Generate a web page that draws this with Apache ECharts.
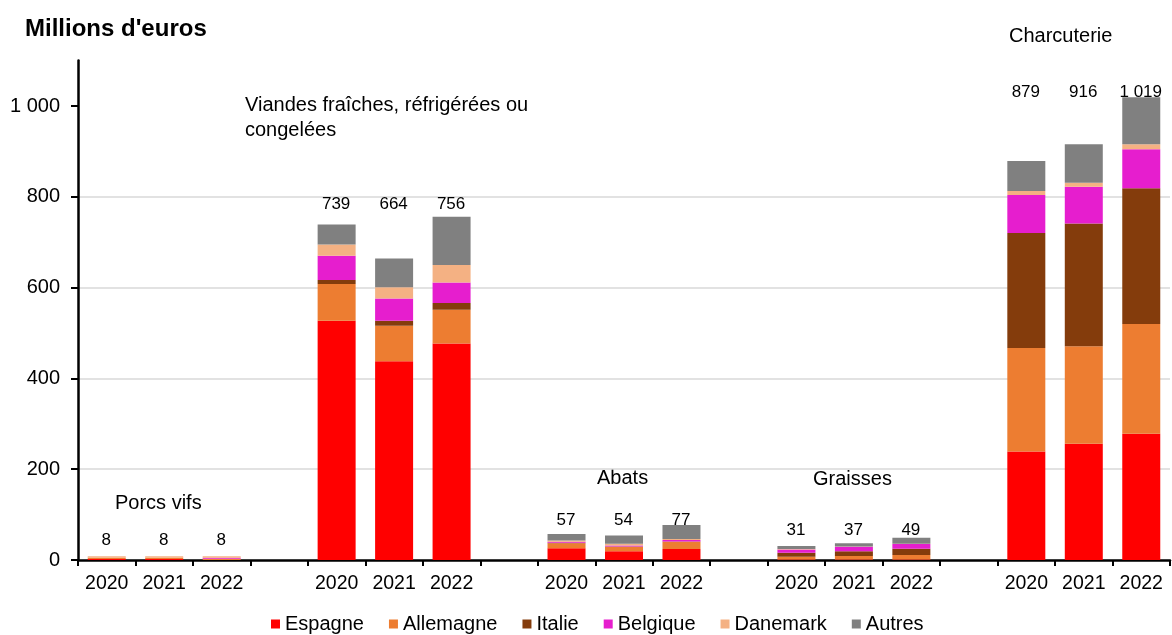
<!DOCTYPE html>
<html>
<head>
<meta charset="utf-8">
<script src="https://cdn.jsdelivr.net/npm/echarts@6/dist/echarts.min.js"></script>
<style>
html,body{margin:0;padding:0;background:#fff;}
#chart{width:1172px;height:635px;}
</style>
</head>
<body>
<div id="chart"></div>
<script>
// ---- Data ----
const years = ['2020', '2021', '2022'];
const groupNames = ['Porcs vifs', 'Viandes fraîches, réfrigérées ou\ncongelées', 'Abats', 'Graisses', 'Charcuterie'];
const seriesNames = ['Espagne', 'Allemagne', 'Italie', 'Belgique', 'Danemark', 'Autres'];
// values per group, per year (2020, 2021, 2022)
const espagne   = [[2, 2, 0],   [527, 438, 477], [26, 19, 24], [1, 1, 1],    [239, 256, 278]];
const allemagne = [[3, 3, 3],   [81, 78, 74],    [11, 10, 16], [6, 8, 10],   [228, 215, 242]];
const italie    = [[0, 0, 0],   [9, 11, 15],     [1, 1, 1],    [9, 10, 14],  [253, 270, 299]];
const belgique  = [[0, 0, 2],   [53, 49, 45],    [2, 2, 3],    [7, 10, 10],  [84, 81, 86]];
const danemark  = [[3, 3, 3],   [25, 25, 39],    [3, 4, 2],    [1, 1, 1],    [9, 9, 11]];
const autres    = [[0, 0, 0],   [44, 63, 106],   [14, 18, 31], [7, 7, 13],   [66, 85, 103]];
const totals    = [[8, 8, 8],   [739, 664, 756], [57, 54, 77], [31, 37, 49], [879, 916, 1019]];
const yTicks = [0, 200, 400, 600, 800, 1000];

// ---- Layout / style (not data) ----
const colors = ['#FF0000', '#ED7D31', '#843C0C', '#E61ECE', '#F4B183', '#808080'];
const labelLevels = [42, 782, 86, 64, 1030]; // vertical level (axis units) of total labels per group
const font = 'Liberation Sans, Arial, sans-serif';

// build category slots: 3 years per group + 1 empty spacer between groups
const categories = [];
const slotIndex = []; // [group][year] -> category index
groupNames.forEach((g, gi) => {
  slotIndex.push([]);
  years.forEach((y, yi) => { slotIndex[gi].push(categories.length); categories.push(y); });
  if (gi < groupNames.length - 1) categories.push(' ');
});

function flatten(arr) {
  const out = categories.map(() => '-');
  arr.forEach((g, gi) => g.forEach((v, yi) => { out[slotIndex[gi][yi]] = v; }));
  return out;
}
const seriesData = [espagne, allemagne, italie, belgique, danemark, autres];

function fmt(v) {
  const s = String(v);
  return s.replace(/\B(?=(\d{3})+(?!\d))/g, ' ');
}

const series = seriesNames.map((name, i) => ({
  name: name,
  type: 'bar',
  stack: 'total',
  barWidth: 38,
  itemStyle: { color: colors[i] },
  emphasis: { disabled: true },
  data: flatten(seriesData[i])
}));

const totalPoints = [];
totals.forEach((g, gi) => g.forEach((v, yi) => {
  totalPoints.push({ value: [slotIndex[gi][yi], labelLevels[gi]], total: v });
}));
series.push({
  type: 'scatter',
  symbolSize: 1,
  itemStyle: { color: 'rgba(0,0,0,0)', opacity: 1 },
  silent: true,
  z: 10,
  label: {
    show: true,
    position: [0, 0],
    align: 'center',
    verticalAlign: 'middle',
    color: '#000',
    opacity: 1,
    textBorderWidth: 0,
    fontFamily: font,
    fontSize: 17,
    formatter: p => fmt(p.data.total)
  },
  labelLayout: { hideOverlap: false },
  data: totalPoints
});

const chart = echarts.init(document.getElementById('chart'), null, { renderer: 'canvas' });
chart.setOption({
  animation: false,
  backgroundColor: '#fff',
  title: {
    text: "Millions d'euros",
    left: 20, top: 12,
    textStyle: { fontFamily: font, fontSize: 24, fontWeight: 'bold', color: '#000' }
  },
  legend: {
    data: seriesNames,
    top: 609,
    left: 266,
    icon: 'rect',
    itemWidth: 9, itemHeight: 9,
    itemGap: 25,
    textStyle: { fontFamily: font, fontSize: 20, color: '#000' }
  },
  grid: { left: 78, right: 2, top: 60.6, bottom: 75, containLabel: false },
  xAxis: {
    type: 'category',
    data: categories,
    axisLine: { lineStyle: { color: '#000', width: 2.5 } },
    axisTick: { show: true, interval: 0, length: 6, lineStyle: { color: '#000', width: 2 } },
    axisLabel: { interval: 0, margin: 14, color: '#000', fontFamily: font, fontSize: 19.5 },
    splitLine: { show: false }
  },
  yAxis: {
    type: 'value',
    min: 0, max: 1100,
    axisLine: { show: true, lineStyle: { color: '#000', width: 2.5 } },
    axisTick: { show: true, length: 7, customValues: yTicks, lineStyle: { color: '#000', width: 2 } },
    axisLabel: {
      customValues: yTicks,
      margin: 18, color: '#000', fontFamily: font, fontSize: 20,
      formatter: v => fmt(v)
    },
    splitLine: { show: true, showMinLine: false, showMaxLine: false, lineStyle: { color: '#D9D9D9', width: 1.5 } }
  },
  graphic: [
    { type: 'text', left: 115, top: 493, style: { text: groupNames[0], font: '20px ' + font, fill: '#000' } },
    { type: 'text', left: 245, top: 93, style: { text: groupNames[1], font: '20px ' + font, fill: '#000', lineHeight: 25 } },
    { type: 'text', left: 597, top: 468, style: { text: groupNames[2], font: '20px ' + font, fill: '#000' } },
    { type: 'text', left: 813, top: 469, style: { text: groupNames[3], font: '20px ' + font, fill: '#000' } },
    { type: 'text', left: 1009, top: 26, style: { text: groupNames[4], font: '20px ' + font, fill: '#000' } }
  ],
  series: series
});
</script>
</body>
</html>
